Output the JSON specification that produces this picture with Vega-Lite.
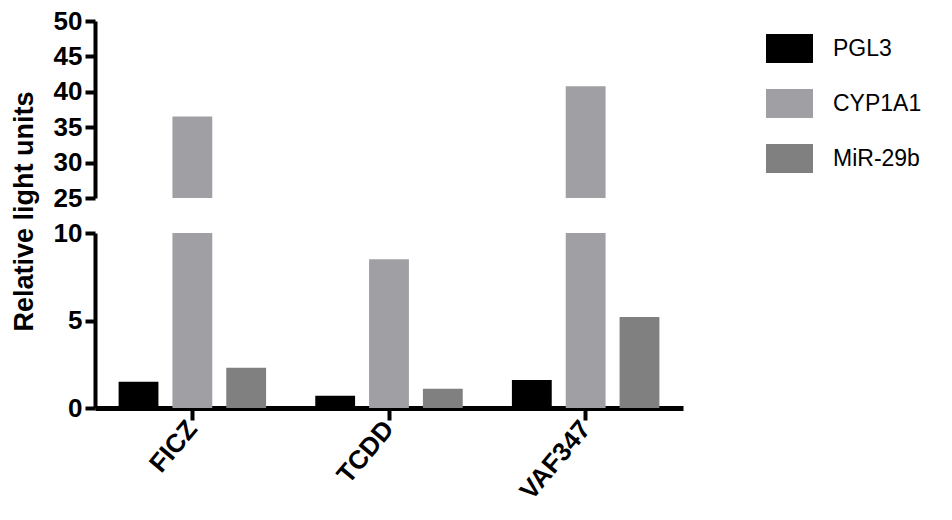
{
  "$schema": "https://vega.github.io/schema/vega-lite/v6.json",
  "background": "white",
  "padding": {"left": 10, "top": 8, "right": 5, "bottom": 5},
  "bounds": "flush",
  "config": {
    "view": {"stroke": null},
    "font": "Liberation Sans",
    "axis": {
      "grid": false,
      "domainColor": "black",
      "domainWidth": 4,
      "tickColor": "black",
      "tickWidth": 4,
      "tickSize": 10,
      "labelFont": "Liberation Sans",
      "labelFontSize": 26,
      "labelFontWeight": "bold",
      "labelColor": "black",
      "labelPadding": 3,
      "titleFont": "Liberation Sans",
      "titleFontSize": 27,
      "titleFontWeight": "bold",
      "titleColor": "black"
    },
    "legend": {
      "labelFont": "Liberation Sans",
      "labelFontSize": 23,
      "labelColor": "black"
    }
  },
  "data": {
    "values": [
      {"drug": "FICZ", "gene": "PGL3", "value": 1.5},
      {"drug": "FICZ", "gene": "CYP1A1", "value": 36.5},
      {"drug": "FICZ", "gene": "MiR-29b", "value": 2.3},
      {"drug": "TCDD", "gene": "PGL3", "value": 0.7},
      {"drug": "TCDD", "gene": "CYP1A1", "value": 8.5},
      {"drug": "TCDD", "gene": "MiR-29b", "value": 1.1},
      {"drug": "VAF347", "gene": "PGL3", "value": 1.6},
      {"drug": "VAF347", "gene": "CYP1A1", "value": 40.8},
      {"drug": "VAF347", "gene": "MiR-29b", "value": 5.2}
    ]
  },
  "spacing": 35,
  "vconcat": [
    {
      "width": 588,
      "height": 177,
      "mark": {"type": "bar", "clip": true},
      "encoding": {
        "x": {"field": "drug", "type": "nominal", "sort": ["FICZ", "TCDD", "VAF347"], "scale": {"domain": ["FICZ", "TCDD", "VAF347"], "paddingInner": 0.25, "paddingOuter": 0.12}, "axis": null},
        "xOffset": {"field": "gene", "type": "nominal", "scale": {"domain": ["PGL3", "CYP1A1", "MiR-29b"], "paddingInner": 0.26, "paddingOuter": 0}},
        "y": {"field": "value", "type": "quantitative", "scale": {"domain": [25, 50], "nice": false}, "axis": {"values": [25, 30, 35, 40, 45, 50], "title": null}},
        "y2": {"datum": 0},
        "color": {"field": "gene", "type": "nominal", "scale": {"domain": ["PGL3", "CYP1A1", "MiR-29b"], "range": ["#000000", "#a0a0a4", "#808080"]}, "legend": {"title": null, "symbolType": "M-1,-0.62H1V0.62H-1Z", "symbolSize": 2209, "symbolStrokeWidth": 0, "rowPadding": 16, "labelOffset": 20, "offset": 79, "padding": 4}}
      }
    },
    {
      "width": 588,
      "height": 175,
      "mark": {"type": "bar", "clip": true},
      "encoding": {
        "x": {"field": "drug", "type": "nominal", "sort": ["FICZ", "TCDD", "VAF347"], "scale": {"domain": ["FICZ", "TCDD", "VAF347"], "paddingInner": 0.25, "paddingOuter": 0.12}, "axis": {"title": null, "labelAngle": -50, "domainWidth": 5, "tickSize": 12, "labelPadding": 4}},
        "xOffset": {"field": "gene", "type": "nominal", "scale": {"domain": ["PGL3", "CYP1A1", "MiR-29b"], "paddingInner": 0.26, "paddingOuter": 0}},
        "y": {"field": "value", "type": "quantitative", "scale": {"domain": [0, 10], "nice": false}, "axis": {"values": [0, 5, 10], "title": "Relative light units", "titleY": -22, "titlePadding": 15}},
        "color": {"field": "gene", "type": "nominal", "scale": {"domain": ["PGL3", "CYP1A1", "MiR-29b"], "range": ["#000000", "#a0a0a4", "#808080"]}}
      }
    }
  ],
  "resolve": {"scale": {"y": "independent"}, "legend": {"color": "shared"}}
}
